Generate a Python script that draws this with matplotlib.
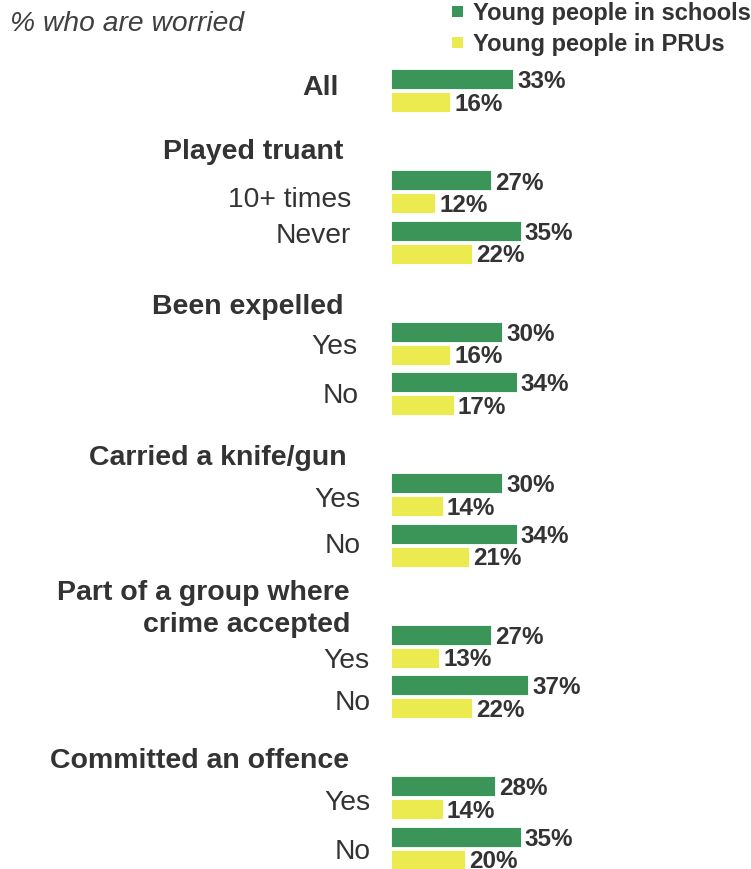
import matplotlib.pyplot as plt
from matplotlib.patches import Rectangle

plt.rcParams['font.family'] = ['Liberation Sans', 'DejaVu Sans']

# survey groups, their sub-rows and the % worried in each setting
groups = ['All', 'Played truant', 'Been expelled', 'Carried a knife/gun',
          'Part of a group where\ncrime accepted', 'Committed an offence']
subgroups = [[''], ['10+ times', 'Never'], ['Yes', 'No'], ['Yes', 'No'],
             ['Yes', 'No'], ['Yes', 'No']]
schools = [[33], [27, 35], [30, 34], [30, 34], [27, 37], [28, 35]]
prus = [[16], [12, 22], [16, 17], [14, 21], [13, 22], [14, 20]]
series = ['Young people in schools', 'Young people in PRUs']

green = '#3b9559'
yellow = '#ebeb4f'
txt = '#333333'

# layout (pixels from top / left)
first_row = 80
group_step = 101
row_step = 50.5
bar_h = 20
pru_shift = 23
zero_px = 391
px_per_pct = 3.7
head_right = [339, 343, 343, 347, 350, 349]
head_base = [95, 159, 314, 465, 632, 768]
sub_right = [None, [351, 351], [357, 359], [360, 361], [369, 371], [370, 371]]
sub_base = [None, [207, 243], [354, 403], [507, 553], [668, 710], [810, 859]]

W, H = 751, 870
fig = plt.figure(figsize=(W / 100, H / 100), dpi=100)
ax = fig.add_axes([0, 0, 1, 1])
ax.set_xlim(-zero_px / px_per_pct, (W - zero_px) / px_per_pct)
ax.set_ylim(H, 0)
ax.axis('off')

# overlay in pixel units for the text
tx = fig.add_axes([0, 0, 1, 1], sharey=ax)
tx.set_xlim(0, W)
tx.patch.set_alpha(0)
tx.axis('off')

y = first_row
for g in range(len(groups)):
    if g > 0:
        y += group_step
    # heading
    lines = groups[g].split('\n')
    for k, line in enumerate(reversed(lines)):
        tx.text(head_right[g], head_base[g] - 32 * k, line, ha='right',
                va='baseline', fontsize=20.5, fontweight='bold', color=txt)
    for r in range(len(subgroups[g])):
        if r > 0:
            y += row_step
        s = schools[g][r]
        p = prus[g][r]
        ax.barh(y, s, height=bar_h, color=green, edgecolor='white', linewidth=0.6)
        ax.barh(y + pru_shift, p, height=bar_h, color=yellow, edgecolor='white', linewidth=0.6)
        ax.text(s + 1.1, y + 8.5, f'{s}%', ha='left', va='baseline',
                fontsize=17.5, fontweight='bold', color=txt)
        ax.text(p + 1.1, y + pru_shift + 8, f'{p}%', ha='left', va='baseline',
                fontsize=17.5, fontweight='bold', color=txt)
        if subgroups[g][r]:
            tx.text(sub_right[g][r], sub_base[g][r], subgroups[g][r], ha='right',
                    va='baseline', fontsize=20.3, color=txt)

# title
tx.text(10, 31, '% who are worried', ha='left', va='baseline', fontsize=20.3,
        fontstyle='italic', color='#404040')

# legend
for i, (name, col) in enumerate(zip(series, [green, yellow])):
    top = 7 + 31 * i
    tx.add_patch(Rectangle((452, top), 11, 11, facecolor=col, edgecolor='none'))
    tx.text(473, top + 13, name, ha='left', va='baseline', fontsize=17,
            fontweight='bold', color=txt)

fig.savefig('out.png', dpi=100)
